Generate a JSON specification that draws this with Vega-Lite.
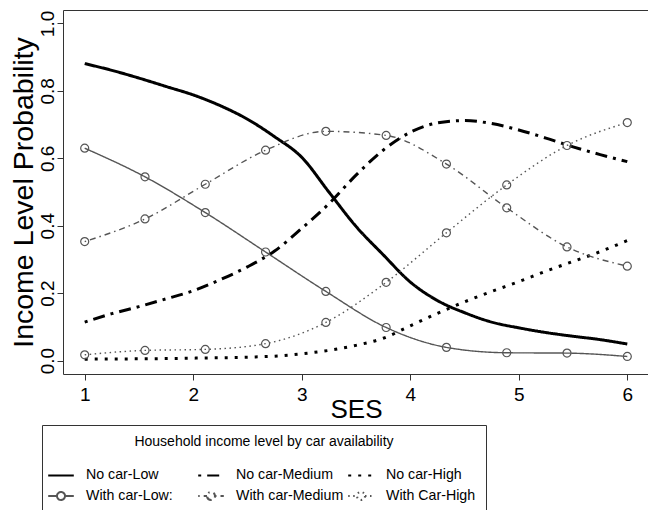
{
  "$schema": "https://vega.github.io/schema/vega-lite/v6.json",
  "width": 586,
  "height": 364,
  "autosize": {"type": "none"},
  "padding": {"left": 63, "top": 10, "right": 0, "bottom": 136},
  "background": "white",
  "config": {
    "view": {"stroke": "#333333", "strokeWidth": 1},
    "font": "Liberation Sans",
    "axis": {
      "grid": false,
      "domain": false,
      "tickColor": "#333333",
      "tickSize": 6,
      "labelColor": "#000000",
      "titleColor": "#000000",
      "labelFont": "Liberation Sans",
      "labelFontSize": 19,
      "titleFontWeight": "normal"
    },
    "legend": {
      "strokeColor": "#333333",
      "padding": 10,
      "titleAnchor": "middle",
      "titleAlign": "center",
      "titleFont": "Liberation Sans",
      "titleFontSize": 14,
      "titleFontWeight": "normal",
      "titleColor": "#000000",
      "titlePadding": 17,
      "titleLimit": 1000,
      "labelFont": "Liberation Sans",
      "labelFontSize": 14.2,
      "labelColor": "#000000",
      "labelOffset": 16,
      "labelLimit": 0,
      "symbolSize": 256,
      "symbolStrokeWidth": 2,
      "rowPadding": 4,
      "columnPadding": 0,
      "gridAlign": "all",
      "symbolFillColor": "transparent"
    }
  },
  "data": {
    "values": [
      {"ses": 1.0, "prob": 0.881, "series": "No car-Low", "car": "No car"},
      {"ses": 1.25, "prob": 0.861, "series": "No car-Low", "car": "No car"},
      {"ses": 1.5, "prob": 0.838, "series": "No car-Low", "car": "No car"},
      {"ses": 1.75, "prob": 0.813, "series": "No car-Low", "car": "No car"},
      {"ses": 2.0, "prob": 0.788, "series": "No car-Low", "car": "No car"},
      {"ses": 2.25, "prob": 0.756, "series": "No car-Low", "car": "No car"},
      {"ses": 2.5, "prob": 0.716, "series": "No car-Low", "car": "No car"},
      {"ses": 2.75, "prob": 0.664, "series": "No car-Low", "car": "No car"},
      {"ses": 3.0, "prob": 0.603, "series": "No car-Low", "car": "No car"},
      {"ses": 3.25, "prob": 0.5, "series": "No car-Low", "car": "No car"},
      {"ses": 3.5, "prob": 0.398, "series": "No car-Low", "car": "No car"},
      {"ses": 3.75, "prob": 0.314, "series": "No car-Low", "car": "No car"},
      {"ses": 4.0, "prob": 0.233, "series": "No car-Low", "car": "No car"},
      {"ses": 4.25, "prob": 0.178, "series": "No car-Low", "car": "No car"},
      {"ses": 4.5, "prob": 0.142, "series": "No car-Low", "car": "No car"},
      {"ses": 4.75, "prob": 0.114, "series": "No car-Low", "car": "No car"},
      {"ses": 5.0, "prob": 0.097, "series": "No car-Low", "car": "No car"},
      {"ses": 5.25, "prob": 0.083, "series": "No car-Low", "car": "No car"},
      {"ses": 5.5, "prob": 0.072, "series": "No car-Low", "car": "No car"},
      {"ses": 5.75, "prob": 0.062, "series": "No car-Low", "car": "No car"},
      {"ses": 6.0, "prob": 0.049, "series": "No car-Low", "car": "No car"},

      {"ses": 1.0, "prob": 0.114, "series": "No car-Medium", "car": "No car"},
      {"ses": 1.25, "prob": 0.139, "series": "No car-Medium", "car": "No car"},
      {"ses": 1.5, "prob": 0.16, "series": "No car-Medium", "car": "No car"},
      {"ses": 1.75, "prob": 0.183, "series": "No car-Medium", "car": "No car"},
      {"ses": 2.0, "prob": 0.207, "series": "No car-Medium", "car": "No car"},
      {"ses": 2.25, "prob": 0.24, "series": "No car-Medium", "car": "No car"},
      {"ses": 2.5, "prob": 0.278, "series": "No car-Medium", "car": "No car"},
      {"ses": 2.75, "prob": 0.325, "series": "No car-Medium", "car": "No car"},
      {"ses": 3.0, "prob": 0.392, "series": "No car-Medium", "car": "No car"},
      {"ses": 3.25, "prob": 0.465, "series": "No car-Medium", "car": "No car"},
      {"ses": 3.5, "prob": 0.55, "series": "No car-Medium", "car": "No car"},
      {"ses": 3.75, "prob": 0.624, "series": "No car-Medium", "car": "No car"},
      {"ses": 4.0, "prob": 0.677, "series": "No car-Medium", "car": "No car"},
      {"ses": 4.25, "prob": 0.705, "series": "No car-Medium", "car": "No car"},
      {"ses": 4.5, "prob": 0.712, "series": "No car-Medium", "car": "No car"},
      {"ses": 4.75, "prob": 0.703, "series": "No car-Medium", "car": "No car"},
      {"ses": 5.0, "prob": 0.684, "series": "No car-Medium", "car": "No car"},
      {"ses": 5.25, "prob": 0.66, "series": "No car-Medium", "car": "No car"},
      {"ses": 5.5, "prob": 0.634, "series": "No car-Medium", "car": "No car"},
      {"ses": 5.75, "prob": 0.611, "series": "No car-Medium", "car": "No car"},
      {"ses": 6.0, "prob": 0.59, "series": "No car-Medium", "car": "No car"},

      {"ses": 1.0, "prob": 0.004, "series": "No car-High", "car": "No car"},
      {"ses": 1.5, "prob": 0.005, "series": "No car-High", "car": "No car"},
      {"ses": 2.0, "prob": 0.007, "series": "No car-High", "car": "No car"},
      {"ses": 2.5, "prob": 0.01, "series": "No car-High", "car": "No car"},
      {"ses": 2.75, "prob": 0.013, "series": "No car-High", "car": "No car"},
      {"ses": 3.0, "prob": 0.02, "series": "No car-High", "car": "No car"},
      {"ses": 3.25, "prob": 0.03, "series": "No car-High", "car": "No car"},
      {"ses": 3.5, "prob": 0.045, "series": "No car-High", "car": "No car"},
      {"ses": 3.75, "prob": 0.066, "series": "No car-High", "car": "No car"},
      {"ses": 4.0, "prob": 0.103, "series": "No car-High", "car": "No car"},
      {"ses": 4.25, "prob": 0.14, "series": "No car-High", "car": "No car"},
      {"ses": 4.5, "prob": 0.174, "series": "No car-High", "car": "No car"},
      {"ses": 4.75, "prob": 0.205, "series": "No car-High", "car": "No car"},
      {"ses": 5.0, "prob": 0.234, "series": "No car-High", "car": "No car"},
      {"ses": 5.25, "prob": 0.265, "series": "No car-High", "car": "No car"},
      {"ses": 5.5, "prob": 0.294, "series": "No car-High", "car": "No car"},
      {"ses": 5.75, "prob": 0.323, "series": "No car-High", "car": "No car"},
      {"ses": 6.0, "prob": 0.356, "series": "No car-High", "car": "No car"},

      {"ses": 1.0, "prob": 0.63, "series": "With car-Low:", "car": "With car"},
      {"ses": 1.5556, "prob": 0.545, "series": "With car-Low:", "car": "With car"},
      {"ses": 2.1111, "prob": 0.439, "series": "With car-Low:", "car": "With car"},
      {"ses": 2.6667, "prob": 0.322, "series": "With car-Low:", "car": "With car"},
      {"ses": 3.2222, "prob": 0.205, "series": "With car-Low:", "car": "With car"},
      {"ses": 3.7778, "prob": 0.098, "series": "With car-Low:", "car": "With car"},
      {"ses": 4.3333, "prob": 0.039, "series": "With car-Low:", "car": "With car"},
      {"ses": 4.8889, "prob": 0.023, "series": "With car-Low:", "car": "With car"},
      {"ses": 5.4444, "prob": 0.022, "series": "With car-Low:", "car": "With car"},
      {"ses": 6.0, "prob": 0.012, "series": "With car-Low:", "car": "With car"},

      {"ses": 1.0, "prob": 0.353, "series": "With car-Medium", "car": "With car"},
      {"ses": 1.5556, "prob": 0.42, "series": "With car-Medium", "car": "With car"},
      {"ses": 2.1111, "prob": 0.523, "series": "With car-Medium", "car": "With car"},
      {"ses": 2.6667, "prob": 0.624, "series": "With car-Medium", "car": "With car"},
      {"ses": 3.2222, "prob": 0.68, "series": "With car-Medium", "car": "With car"},
      {"ses": 3.7778, "prob": 0.668, "series": "With car-Medium", "car": "With car"},
      {"ses": 4.3333, "prob": 0.583, "series": "With car-Medium", "car": "With car"},
      {"ses": 4.8889, "prob": 0.453, "series": "With car-Medium", "car": "With car"},
      {"ses": 5.4444, "prob": 0.337, "series": "With car-Medium", "car": "With car"},
      {"ses": 6.0, "prob": 0.28, "series": "With car-Medium", "car": "With car"},

      {"ses": 1.0, "prob": 0.017, "series": "With Car-High", "car": "With car"},
      {"ses": 1.5556, "prob": 0.03, "series": "With Car-High", "car": "With car"},
      {"ses": 2.1111, "prob": 0.033, "series": "With Car-High", "car": "With car"},
      {"ses": 2.6667, "prob": 0.05, "series": "With Car-High", "car": "With car"},
      {"ses": 3.2222, "prob": 0.113, "series": "With Car-High", "car": "With car"},
      {"ses": 3.7778, "prob": 0.232, "series": "With Car-High", "car": "With car"},
      {"ses": 4.3333, "prob": 0.379, "series": "With Car-High", "car": "With car"},
      {"ses": 4.8889, "prob": 0.521, "series": "With Car-High", "car": "With car"},
      {"ses": 5.4444, "prob": 0.638, "series": "With Car-High", "car": "With car"},
      {"ses": 6.0, "prob": 0.706, "series": "With Car-High", "car": "With car"}
    ]
  },
  "encoding": {
    "x": {
      "field": "ses",
      "type": "quantitative",
      "scale": {"domain": [0.8, 6.2], "nice": false, "zero": false},
      "axis": {
        "values": [1, 2, 3, 4, 5, 6],
        "format": "d",
        "labelBaseline": "alphabetic",
        "labelPadding": 20,
        "title": "SES",
        "titleFont": "Liberation Sans",
        "titleFontSize": 26,
        "titleBaseline": "alphabetic",
        "titleAlign": "center",
        "titleX": 293,
        "titleY": 43
      }
    },
    "y": {
      "field": "prob",
      "type": "quantitative",
      "scale": {"domain": [-0.04, 1.04], "nice": false, "zero": false},
      "axis": {
        "values": [0, 0.2, 0.4, 0.6, 0.8, 1.0],
        "format": ".1f",
        "labelAngle": -90,
        "labelAlign": "center",
        "labelBaseline": "alphabetic",
        "labelPadding": 4,
        "title": "Income Level Probability",
        "titleFont": "Liberation Sans",
        "titleFontSize": 28.5,
        "titleAngle": -90,
        "titleAlign": "center",
        "titleBaseline": "alphabetic",
        "titleX": -31,
        "titleY": 182
      }
    }
  },
  "layer": [
    {
      "transform": [{"filter": "datum.car === 'No car'"}],
      "mark": {"type": "line", "interpolate": "monotone", "strokeCap": "butt", "strokeWidth": 3},
      "encoding": {
        "color": {"field": "series", "type": "nominal"},
        "strokeDash": {"field": "series", "type": "nominal"}
      }
    },
    {
      "transform": [{"filter": "datum.car === 'With car'"}],
      "mark": {"type": "line", "interpolate": "monotone", "strokeCap": "butt", "strokeWidth": 1.4},
      "encoding": {
        "color": {"field": "series", "type": "nominal"},
        "strokeDash": {"field": "series", "type": "nominal"}
      }
    },
    {
      "transform": [{"filter": "datum.car === 'With car'"}],
      "mark": {"type": "point", "shape": "circle", "size": 64, "stroke": "#555555", "strokeWidth": 1.2, "filled": false, "opacity": 1}
    },
    {
      "transform": [{"filter": "false"}],
      "mark": {"type": "point", "filled": false, "opacity": 1},
      "encoding": {
        "color": {
          "field": "series", "type": "nominal",
          "scale": {"domain": ["No car-Low", "No car-Medium", "No car-High", "With car-Low:", "With car-Medium", "With Car-High"], "range": ["#000000", "#000000", "#000000", "#555555", "#555555", "#555555"]},
          "legend": {"title": "Household income level by car availability", "orient": "none", "legendX": -21, "legendY": 415, "columns": 3, "direction": "horizontal",
            "labelExpr": "datum.label === 'No car-High' || datum.label === 'With Car-High' ? datum.label + '\u00a0\u00a0\u00a0\u00a0' : datum.label",
            "encode": {"symbols": {"update": {"strokeWidth": {"signal": "indexof(datum.value, 'With') === 0 ? 1.4 : 3"}}}}}
        },
        "strokeDash": {
          "field": "series", "type": "nominal",
          "scale": {"domain": ["No car-Low", "No car-Medium", "No car-High", "With car-Low:", "With car-Medium", "With Car-High"], "range": [[1, 0], [3, 6, 12, 6], [3, 7], [1, 0], [1.5, 4, 6, 4], [1.5, 3.5]]},
          "legend": {"title": "Household income level by car availability", "orient": "none", "legendX": -21, "legendY": 415, "columns": 3, "direction": "horizontal"}
        },
        "shape": {
          "field": "series", "type": "nominal",
          "scale": {"domain": ["No car-Low", "No car-Medium", "No car-High", "With car-Low:", "With car-Medium", "With Car-High"], "range": ["M-1.6,0L1.6,0", "M-1.6,0L1.6,0", "M-1.6,0L1.6,0", "M-1.6,0L-0.5,0M0.5,0L1.6,0M0.5,0A0.5,0.5,0,1,1,-0.5,0A0.5,0.5,0,1,1,0.5,0", "M-1.6,0L-0.5,0M0.5,0L1.6,0M0.5,0A0.5,0.5,0,1,1,-0.5,0A0.5,0.5,0,1,1,0.5,0", "M-1.6,0L-0.5,0M0.5,0L1.6,0M0.5,0A0.5,0.5,0,1,1,-0.5,0A0.5,0.5,0,1,1,0.5,0"]},
          "legend": {"title": "Household income level by car availability", "orient": "none", "legendX": -21, "legendY": 415, "columns": 3, "direction": "horizontal"}
        }
      }
    }
  ]
}
